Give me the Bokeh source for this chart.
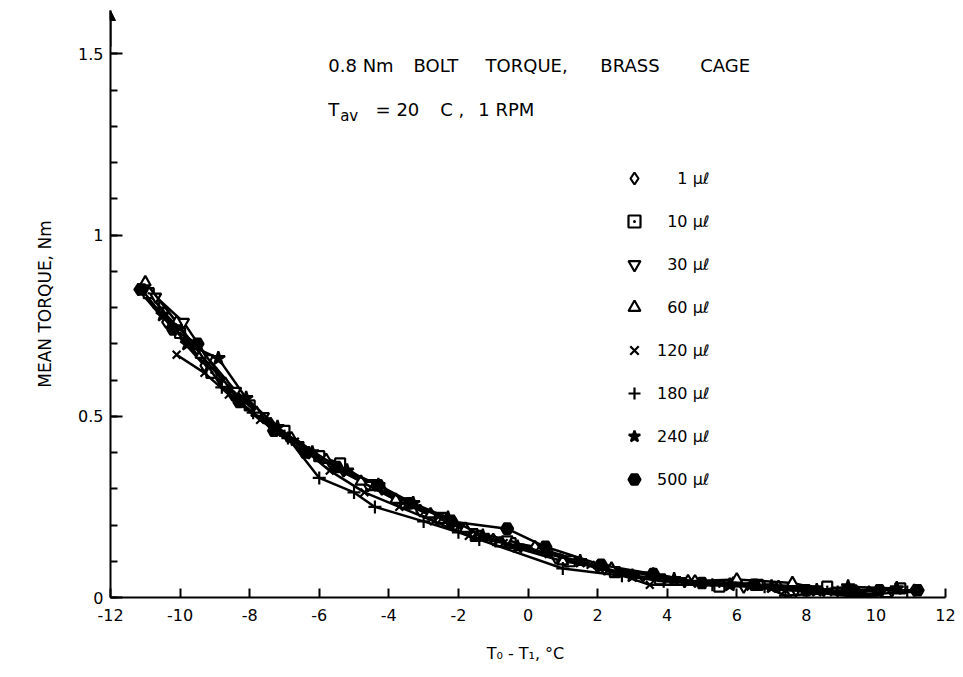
from bokeh.plotting import figure
from bokeh.models import (Range1d, FixedTicker, Legend, LegendItem, Label, Arrow, NormalHead)
from bokeh.embed import file_html
from bokeh.resources import INLINE

# ---------------- data ----------------
series_names = ["1 µℓ", "10 µℓ", "30 µℓ", "60 µℓ", "120 µℓ", "180 µℓ", "240 µℓ", "500 µℓ"]

x1 = [-11.2, -10.4, -9.3, -8.5, -7.4, -6.3, -5.3, -4.2, -3.1, -2.1, -1.0, 0.2, 2.0, 3.6, 4.8, 5.9, 7.2, 8.5, 9.8, 11.1]
y1 = [0.85, 0.76, 0.64, 0.56, 0.48, 0.40, 0.35, 0.30, 0.24, 0.20, 0.16, 0.14, 0.085, 0.065, 0.045, 0.04, 0.03, 0.02, 0.015, 0.02]

x2 = [-10.9, -10.0, -9.1, -8.0, -7.0, -6.0, -5.4, -4.5, -3.5, -2.5, -1.5, -0.5, 1.2, 2.5, 3.8, 5.5, 6.6, 8.6, 9.3, 10.7]
y2 = [0.84, 0.73, 0.62, 0.53, 0.46, 0.39, 0.37, 0.31, 0.26, 0.22, 0.17, 0.15, 0.10, 0.07, 0.05, 0.03, 0.035, 0.03, 0.02, 0.025]

x3 = [-10.7, -9.9, -9.2, -8.4, -7.6, -6.6, -5.6, -4.6, -3.6, -2.6, -1.6, -0.6, 0.8, 2.2, 3.3, 4.5, 6.2, 7.7, 9.6, 10.4]
y3 = [0.83, 0.76, 0.66, 0.57, 0.50, 0.42, 0.36, 0.31, 0.26, 0.22, 0.18, 0.16, 0.11, 0.08, 0.06, 0.045, 0.03, 0.02, 0.0, 0.01]

x4 = [-11.0, -10.1, -9.4, -8.7, -7.8, -6.8, -5.8, -4.8, -3.8, -2.8, -1.8, -0.8, 1.0, 2.4, 3.6, 4.6, 6.0, 7.6, 9.5, 10.3]
y4 = [0.87, 0.76, 0.67, 0.59, 0.51, 0.44, 0.38, 0.32, 0.27, 0.23, 0.19, 0.15, 0.10, 0.08, 0.06, 0.045, 0.05, 0.04, 0.0, 0.01]

x5 = [-10.1, -9.3, -8.6, -7.7, -6.7, -5.7, -4.7, -3.7, -2.7, -1.7, -0.7, 0.6, 1.8, 3.5, 5.0, 6.4, 7.4, 8.8, 9.9]
y5 = [0.67, 0.62, 0.56, 0.49, 0.43, 0.35, 0.29, 0.25, 0.21, 0.17, 0.15, 0.12, 0.09, 0.035, 0.035, 0.03, 0.02, 0.015, 0.0]

x6 = [-10.6, -9.6, -8.8, -7.9, -6.9, -6.0, -5.0, -4.4, -3.0, -2.0, -1.4, 1.0, 2.7, 3.9, 5.3, 6.8, 7.4, 8.9, 10.0, 10.9]
y6 = [0.80, 0.70, 0.58, 0.51, 0.44, 0.33, 0.29, 0.25, 0.21, 0.18, 0.16, 0.08, 0.06, 0.045, 0.035, 0.03, 0.005, 0.015, 0.01, 0.015]

x7 = [-10.5, -9.8, -8.9, -8.1, -7.2, -6.2, -5.2, -4.3, -3.3, -2.3, -1.3, -0.3, 1.5, 3.0, 4.2, 5.8, 7.0, 8.3, 9.2, 10.6]
y7 = [0.78, 0.70, 0.66, 0.55, 0.47, 0.40, 0.35, 0.31, 0.26, 0.22, 0.17, 0.14, 0.10, 0.06, 0.05, 0.035, 0.03, 0.02, 0.03, 0.025]

x8 = [-11.1, -10.2, -9.5, -8.3, -7.3, -6.4, -5.5, -4.3, -3.4, -2.2, -0.6, 0.5, 2.1, 3.6, 5.0, 6.5, 8.0, 9.4, 10.1, 11.2]
y8 = [0.85, 0.74, 0.70, 0.54, 0.46, 0.40, 0.36, 0.31, 0.26, 0.21, 0.19, 0.14, 0.09, 0.065, 0.04, 0.035, 0.02, 0.015, 0.02, 0.02]

xs = [x1, x2, x3, x4, x5, x6, x7, x8]
ys = [y1, y2, y3, y4, y5, y6, y7, y8]

x_ticks = [-12, -10, -8, -6, -4, -2, 0, 2, 4, 6, 8, 10, 12]
x_tick_labels = {t: str(t) for t in x_ticks}
y_ticks = [0, 0.5, 1, 1.5]
y_tick_labels = {0: "0", 0.5: "0.5", 1: "1", 1.5: "1.5"}

title_words = ["0.8 Nm", "BOLT", "TORQUE,", "BRASS", "CAGE"]
title_word_x = [-5.74, -3.29, -1.22, 2.08, 4.95]

# ---------------- styles ----------------
markers = ["diamond", "square_dot", "inverted_triangle", "triangle", "x", "cross", "star", "hex"]
fills = ["white", "white", "white", "white", "black", "black", "black", "black"]
sizes = [12, 10, 11, 11, 11, 13, 14, 12]

FONT = "DejaVu Sans"

p = figure(width=963, height=677, output_backend="svg", toolbar_location=None,
           x_range=Range1d(-12, 12), y_range=Range1d(0, 1.62),
           min_border_left=110, min_border_right=18, min_border_top=10, min_border_bottom=80)
p.outline_line_color = None
p.grid.visible = False
p.background_fill_color = "white"
p.border_fill_color = "white"

renderers = []
for i in range(8):
    p.line(xs[i], ys[i], line_color="black", line_width=2.5)
    r = p.scatter(xs[i], ys[i], marker=markers[i], size=sizes[i],
                  fill_color=fills[i], line_color="black", line_width=2.2)
    renderers.append(r)

# axes
xa = p.xaxis[0]
xa.ticker = FixedTicker(ticks=x_ticks)
xa.major_label_overrides = x_tick_labels
xa.axis_line_width = 2
xa.axis_line_color = "black"
xa.major_tick_in = 9
xa.major_tick_out = 0
xa.minor_tick_in = 0
xa.minor_tick_out = 0
xa.major_tick_line_width = 2
xa.major_tick_line_color = "black"
xa.major_label_text_font = FONT
xa.major_label_text_font_size = "16px"
xa.major_label_text_color = "black"
xa.major_label_standoff = 11
xa.axis_label = "T₀ - T₁,  °C"
xa.axis_label_text_font = FONT
xa.axis_label_text_font_size = "16px"
xa.axis_label_text_font_style = "normal"
xa.axis_label_text_color = "black"
xa.axis_label_standoff = 20

ya = p.yaxis[0]
ya.ticker = FixedTicker(ticks=y_ticks, minor_ticks=[i / 10 for i in range(16)])
ya.major_label_overrides = y_tick_labels
ya.axis_line_width = 2
ya.axis_line_color = "black"
ya.major_tick_in = 12
ya.major_tick_out = 0
ya.minor_tick_in = 7
ya.minor_tick_out = 0
ya.major_tick_line_width = 2
ya.major_tick_line_color = "black"
ya.minor_tick_line_width = 2
ya.minor_tick_line_color = "black"
ya.major_label_text_font = FONT
ya.major_label_text_font_size = "16px"
ya.major_label_text_color = "black"
ya.major_label_standoff = 7
ya.axis_label = "MEAN TORQUE, Nm"
ya.axis_label_text_font = FONT
ya.axis_label_text_font_size = "17px"
ya.axis_label_text_font_style = "normal"
ya.axis_label_text_color = "black"
ya.axis_label_standoff = 20

# arrow at top of y axis
p.add_layout(Arrow(end=NormalHead(size=10, fill_color="black", line_color="black"),
                   x_start=-12, y_start=1.52, x_end=-12, y_end=1.62,
                   line_color="black", line_width=2))

# annotations
for w, wx in zip(title_words, title_word_x):
    p.add_layout(Label(x=wx, y=1.44, text=w, text_font=FONT, text_font_size="18px",
                       text_color="black"))
p.add_layout(Label(x=-5.74, y=1.318, text="T", text_font=FONT, text_font_size="18px", text_color="black"))
p.add_layout(Label(x=-5.40, y=1.303, text="av", text_font=FONT, text_font_size="15px", text_color="black"))
p.add_layout(Label(x=-4.38, y=1.318, text="=  20", text_font=FONT, text_font_size="18px", text_color="black"))
p.add_layout(Label(x=-2.52, y=1.318, text="C ,", text_font=FONT, text_font_size="18px", text_color="black"))
p.add_layout(Label(x=-1.43, y=1.318, text="1  RPM", text_font=FONT, text_font_size="18px", text_color="black"))

# legend
FS = "\u2007"
leg_labels = [FS * 2 + "1 µℓ", FS + "10 µℓ", FS + "30 µℓ", FS + "60 µℓ",
              "120 µℓ", "180 µℓ", "240 µℓ", "500 µℓ"]
items = [LegendItem(label=leg_labels[i], renderers=[renderers[i]]) for i in range(8)]
legend = Legend(items=items, location=(509, 103), border_line_color=None,
                background_fill_alpha=0, label_text_font=FONT, label_text_font_size="16px",
                label_text_color="black",
                glyph_height=30, glyph_width=30, label_height=30, spacing=13,
                label_standoff=8, padding=10)
p.add_layout(legend)

open("out.html", "w").write(file_html(p, INLINE))
